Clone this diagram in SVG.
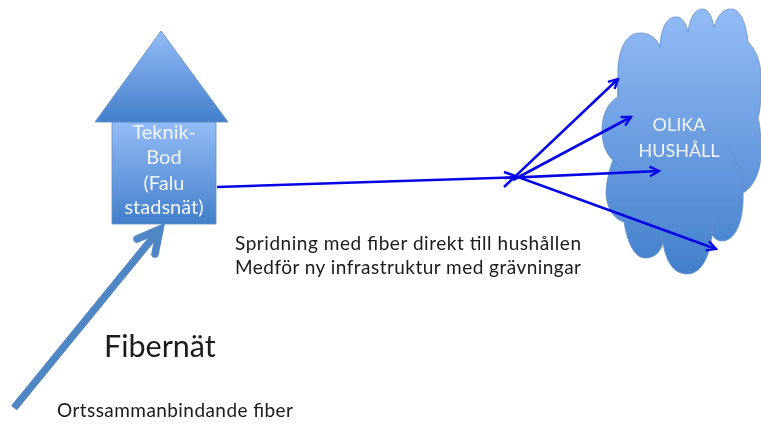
<svg xmlns="http://www.w3.org/2000/svg" width="761" height="424" viewBox="0 0 761 424">
<style>
text{font-family:"Lato","Open Sans","Liberation Sans",sans-serif}
.w{fill:#f2f6fc;text-anchor:middle}
.h{font-size:20px}
.c{font-size:18px}
.k{fill:#1a1a1a}
.shape{fill:url(#g);stroke:#5f8fc8;stroke-width:.8}
.blue{fill:none;stroke:#0505e6;stroke-width:2.6;marker-end:url(#a)}
.soft{filter:url(#s)}
</style>
<defs>
<linearGradient id="g" x1="0" y1="0" x2="0" y2="1"><stop offset="0" stop-color="#93bcf6"/><stop offset="1" stop-color="#437fcb"/></linearGradient>
<filter id="s" x="-5%" y="-5%" width="110%" height="110%"><feGaussianBlur stdDeviation=".45"/></filter>
<marker id="a" viewBox="0 0 12 12" refX="10.5" refY="6" markerWidth="13" markerHeight="13" markerUnits="userSpaceOnUse" orient="auto"><path d="M2 1.5L10.5 6L2 10.5" fill="none" stroke="#0505e6" stroke-width="2.2"/></marker>
</defs>
<rect width="761" height="424" fill="#fff"/>
<g id="bod" class="soft">
<path class="shape" d="M112 122H216V224H112Z"/>
<path class="shape" d="M161 31L228 122H95Z"/>
<text class="w h" x="164" y="139">Teknik-</text>
<text class="w h" x="164" y="164">Bod</text>
<text class="w h" x="164" y="190">(Falu</text>
<text class="w h" x="164" y="214">stadsnät)</text>
</g>
<g id="moln" class="soft">
<path class="shape" d="M618 78C617 52 625 33 640 33C649 33 657 38 660 47C661 27 667 17 676 17C682 17 686 23 688 32C690 18 695 9 702 9C708 9 712 16 714 28C717 16 723 9 731 9C740 9 746 22 748 42C756 50 761 62 761 78C761 95 761 108 758 118C761 128 761 145 761 155C760 175 752 188 743 193C744 222 735 241 722 241C718 241 715 239 712 235C709 260 700 274 687 274C674 274 666 262 663 243C660 253 654 258 645 258C634 258 627 241 624 222C613 219 607 207 606 195C606 183 609 170 613 160C607 155 602 145 602 130C602 115 608 102 618 97Z"/>
<path d="M618 78C617 85 618 92 618 97M729 149C737 160 743 176 743 193M663 243C661 235 661 228 662 222M712 235C713 226 713 220 713 214M624 222C622 218 621 213 621 209M613 160C616 164 620 167 624 169" fill="none" stroke="#5f8fc8" stroke-width=".8"/>
<text class="w c" x="679" y="131">OLIKA</text>
<text class="w c" x="679" y="157">HUSHÅLL</text>
</g>
<g id="kopplingar">
<line x1="217" y1="187" x2="525" y2="177" stroke="#0505e6" stroke-width="2.6"/>
<line class="blue" x1="504" y1="187" x2="618" y2="79"/>
<line class="blue" x1="513" y1="180" x2="631" y2="117"/>
<line class="blue" x1="505" y1="178" x2="659" y2="171"/>
<line class="blue" x1="504" y1="172" x2="716" y2="249"/>
<path d="M14 408L160 229" stroke="#4f86c4" stroke-width="7.5" fill="none"/>
<path d="M137 239L160 229L155 254" stroke="#4f86c4" stroke-width="7.5" fill="none" stroke-linecap="round" stroke-linejoin="miter"/>
</g>
<g id="texter" class="soft">
<text class="k" x="235" y="250" font-size="19" textLength="346">Spridning med fiber direkt till hushållen</text>
<text class="k" x="235" y="274" font-size="19" textLength="346">Medför ny infrastruktur med grävningar</text>
<text class="k" x="104" y="357" font-size="30.5">Fibernät</text>
<text class="k" x="57" y="417" font-size="19" textLength="236">Ortssammanbindande fiber</text>
</g>
</svg>
